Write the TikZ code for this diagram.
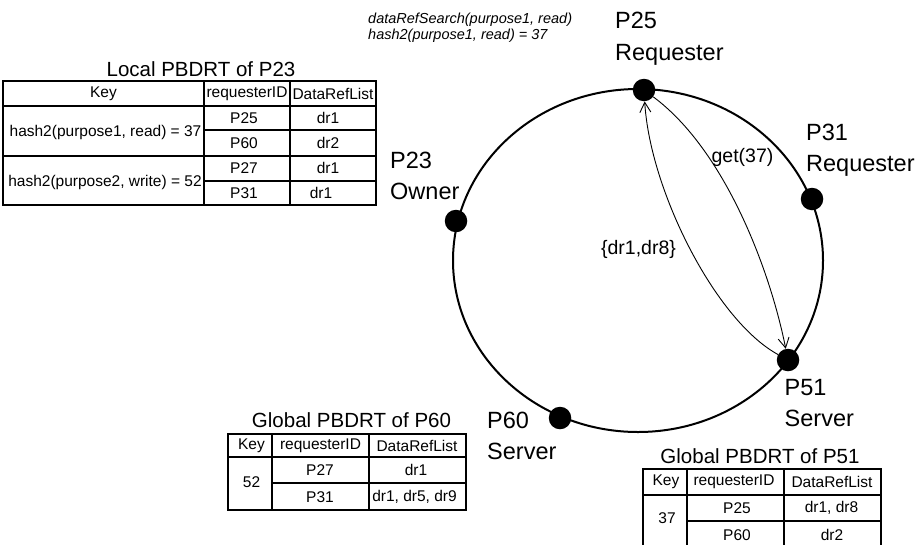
\documentclass[tikz,border=0pt]{standalone}
\usepackage{fontspec}
\setmainfont{Liberation Sans}
\usetikzlibrary{arrows.meta}
\begin{document}
\begin{tikzpicture}[x=1pt,y=-1pt,
  dot/.style={circle,fill=black,minimum size=22.5pt,inner sep=0pt},
  peer/.style={anchor=base west,inner sep=0pt,font=\fontsize{23.5}{31.5}\selectfont},
  msg/.style={inner sep=0pt,font=\fontsize{19.5}{22}\selectfont},
  flow/.style={line width=0.9pt,-{Straight Barb[length=10pt,width=11pt]}},
  ttitle/.style={anchor=base,inner sep=0pt,font=\fontsize{20.5}{24}\selectfont},
  cell/.style={inner sep=0pt,font=\fontsize{15.5}{18}\selectfont},
  frame/.style={line width=2.2pt},
  rule/.style={line width=1.5pt}]
\useasboundingbox (0,0) rectangle (920,544);
\clip (0,0) rectangle (920,544);
\fill[white] (0,0) rectangle (920,544);

% ring
\draw[line width=2pt] (638,260.5) ellipse [x radius=185pt, y radius=171.5pt];

% peers
\node[dot] (p25) at (644,90) {};
\node[dot] (p31) at (812,199) {};
\node[dot] (p23) at (456,221) {};
\node[dot] (p51) at (788,360) {};
\node[dot] (p60) at (560,418) {};

\node[peer] (l25) at (615,28.5) {\begin{tabular}[t]{@{}l@{}}P25\\Requester\end{tabular}};
\node[peer] (l31) at (806,140) {\begin{tabular}[t]{@{}l@{}}P31\\Requester\end{tabular}};
\node[peer] (l23) at (390,168) {\begin{tabular}[t]{@{}l@{}}P23\\Owner\end{tabular}};
\node[peer] (l51) at (784.5,395) {\begin{tabular}[t]{@{}l@{}}P51\\Server\end{tabular}};
\node[peer] (l60) at (487,428) {\begin{tabular}[t]{@{}l@{}}P60\\Server\end{tabular}};

\node[anchor=base west,inner sep=0pt,font=\fontsize{14.5}{16}\selectfont\itshape] (query) at (368,23.3)
  {\begin{tabular}[t]{@{}l@{}}dataRefSearch(purpose1, read)\\hash2(purpose1, read) = 37\end{tabular}};

% messages
\draw[flow] (p25) .. controls (725,150) and (770,270) .. (p51);
\draw[flow] (p51) .. controls (715,320) and (650,190) .. (p25);
\node[msg] (get) at (742.5,157.5) {get(37)};
\node[msg] (res) at (638.5,249.5) {\{dr1,dr8\}};

% Local PBDRT of P23
\node[ttitle] (t23) at (201,76.5) {Local PBDRT of P23};
\draw[rule] (204,81) -- (204,205) (290,81) -- (290,205) (3,106) -- (376,106) (3,156) -- (376,156)
  (204,130) -- (376,130) (204,181) -- (376,181);
\draw[frame] (3,81) rectangle (376,205);
\node[cell] (a1) at (103.5,94) {Key};
\node[cell] (a2) at (247,94) {requesterID};
\node[cell] (a3) at (333,94) {DataRefList};
\node[cell] (a4) at (105.5,132) {hash2(purpose1, read) = 37};
\node[cell] (a5) at (105,182) {hash2(purpose2, write) = 52};
\node[cell] (a6) at (244,118.5) {P25};
\node[cell] (a7) at (328,117.5) {dr1};
\node[cell] (a8) at (244,143.5) {P60};
\node[cell] (a9) at (328,142.5) {dr2};
\node[cell] (a10) at (244,168.5) {P27};
\node[cell] (a11) at (328,167.5) {dr1};
\node[cell] (a12) at (244,193) {P31};
\node[cell] (a13) at (321,193) {dr1};

% Global PBDRT of P60
\node[ttitle] (t60) at (351.5,427.5) {Global PBDRT of P60};
\draw[rule] (272,434) -- (272,510) (369,434) -- (369,510) (228,457) -- (466,457) (272,483) -- (466,483);
\draw[frame] (228,434) rectangle (466,510);
\node[cell] (b1) at (251.5,445.5) {Key};
\node[cell] (b2) at (320.5,445.5) {requesterID};
\node[cell] (b3) at (417,445.5) {DataRefList};
\node[cell] (b4) at (251.5,482.5) {52};
\node[cell] (b5) at (320,470) {P27};
\node[cell] (b6) at (416,470) {dr1};
\node[cell] (b7) at (320,497) {P31};
\node[cell] (b8) at (414.5,497) {dr1, dr5, dr9};

% Global PBDRT of P51
\node[ttitle] (t51) at (760,463.5) {Global PBDRT of P51};
\draw[rule] (687,469) -- (687,549) (784,469) -- (784,549) (643,495) -- (881,495) (687,521) -- (881,521);
\draw[frame] (643,469) rectangle (881,549);
\node[cell] (c1) at (666,482) {Key};
\node[cell] (c2) at (734,482) {requesterID};
\node[cell] (c3) at (832,482) {DataRefList};
\node[cell] (c4) at (667,518) {37};
\node[cell] (c5) at (737,508) {P25};
\node[cell] (c6) at (831.5,508) {dr1, dr8};
\node[cell] (c7) at (737,535) {P60};
\node[cell] (c8) at (832,535) {dr2};
\end{tikzpicture}
\end{document}
